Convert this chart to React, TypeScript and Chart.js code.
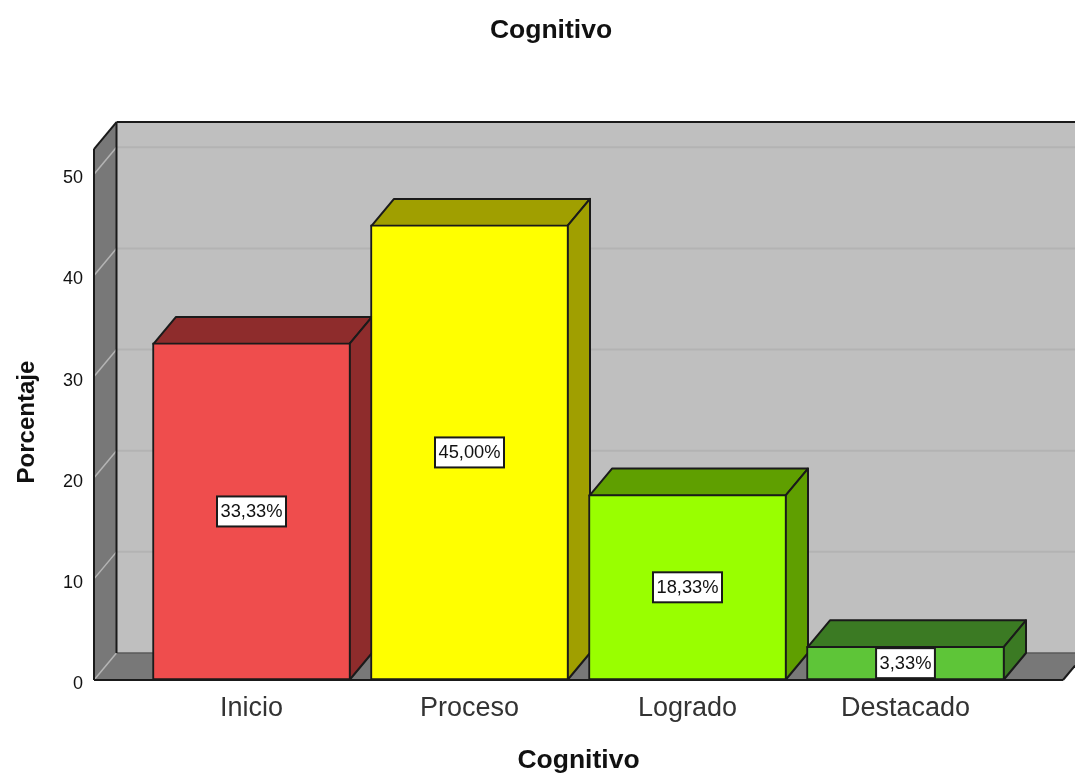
import React, { useEffect, useRef } from "react";
import { Chart, registerables } from "chart.js";

Chart.register(...registerables);

const categories = ["Inicio", "Proceso", "Logrado", "Destacado"];
const percentages = [33.33, 45.0, 18.33, 3.33];
const valueLabels = ["33,33%", "45,00%", "18,33%", "3,33%"];
const frontColors = ["#EF4D4D", "#FFFF00", "#99FF00", "#5EC538"];
const topColors = ["#8E2C2C", "#A09F00", "#5F9F00", "#3B7A23"];
const yTicks = [0, 10, 20, 30, 40, 50];

const FONT = "'Liberation Sans', Arial, sans-serif";
const INK = "#1a1a1a";
const DEPTH_X = 22.5;
const DEPTH_Y = -27;
const WALL_TOP_VALUE = 52.5;
const TITLE_CENTER = 551;

function poly(ctx: CanvasRenderingContext2D, pts: number[][], fill: string | null, stroke: string | null, lw = 2) {
  ctx.beginPath();
  pts.forEach(([x, y], i) => (i ? ctx.lineTo(x, y) : ctx.moveTo(x, y)));
  ctx.closePath();
  if (fill) {
    ctx.fillStyle = fill;
    ctx.fill();
  }
  if (stroke) {
    ctx.strokeStyle = stroke;
    ctx.lineWidth = lw;
    ctx.lineJoin = "round";
    ctx.stroke();
  }
}

function seg(ctx: CanvasRenderingContext2D, x1: number, y1: number, x2: number, y2: number, color: string, lw: number) {
  ctx.beginPath();
  ctx.moveTo(x1, y1);
  ctx.lineTo(x2, y2);
  ctx.strokeStyle = color;
  ctx.lineWidth = lw;
  ctx.stroke();
}

// Moves the title off the page centre, onto the centre of the 3D box.
const titleShift = {
  id: "titleShift",
  afterLayout(chart: any) {
    const t = chart.titleBlock;
    if (!t) return;
    const half = t.width / 2;
    t.left = TITLE_CENTER - half;
    t.right = TITLE_CENTER + half;
  },
};

// Back wall, side wall and floor of the box, plus the top and side faces of each bar.
const box3d = {
  id: "box3d",
  beforeDatasetsDraw(chart: any) {
    const { ctx, chartArea, scales } = chart;
    const y = scales.y;
    const l = chartArea.left;
    const r = chartArea.right;
    const b = y.getPixelForValue(0);
    const t = y.getPixelForValue(WALL_TOP_VALUE);
    ctx.save();

    poly(ctx, [[l + DEPTH_X, t + DEPTH_Y], [r + DEPTH_X, t + DEPTH_Y], [r + DEPTH_X, b + DEPTH_Y], [l + DEPTH_X, b + DEPTH_Y]], "#BFBFBF", null);
    poly(ctx, [[l, b], [l + DEPTH_X, b + DEPTH_Y], [r + DEPTH_X, b + DEPTH_Y], [r, b]], "#787878", null);
    poly(ctx, [[l, t], [l + DEPTH_X, t + DEPTH_Y], [l + DEPTH_X, b + DEPTH_Y], [l, b]], "#787878", null);

    yTicks.forEach((v) => {
      const py = y.getPixelForValue(v);
      seg(ctx, l, py, l + DEPTH_X, py + DEPTH_Y, "#B4B4B4", 1.5);
      if (v > 0) seg(ctx, l + DEPTH_X, py + DEPTH_Y, r + DEPTH_X, py + DEPTH_Y, "#B3B3B3", 2);
    });

    seg(ctx, l + DEPTH_X, b + DEPTH_Y, r + DEPTH_X, b + DEPTH_Y, "#5A5A5A", 1.5);
    seg(ctx, l, t, l, b, INK, 2);
    seg(ctx, l, t, l + DEPTH_X, t + DEPTH_Y, INK, 2);
    seg(ctx, l + DEPTH_X, t + DEPTH_Y, r + DEPTH_X, t + DEPTH_Y, INK, 2);
    seg(ctx, l + DEPTH_X, t + DEPTH_Y, l + DEPTH_X, b + DEPTH_Y, INK, 2);

    chart.getDatasetMeta(0).data.forEach((bar: any, i: number) => {
      const x0 = bar.x - bar.width / 2 + 1;
      const x1 = bar.x + bar.width / 2 - 1;
      const yt = bar.y + 1;
      const yb = bar.base;
      poly(ctx, [[x0, yt], [x0 + DEPTH_X, yt + DEPTH_Y], [x1 + DEPTH_X, yt + DEPTH_Y], [x1, yt]], topColors[i], INK);
      poly(ctx, [[x1, yt], [x1 + DEPTH_X, yt + DEPTH_Y], [x1 + DEPTH_X, yb + DEPTH_Y], [x1, yb]], topColors[i], INK);
    });
    ctx.restore();
  },
  afterDatasetsDraw(chart: any) {
    const { ctx, chartArea, scales } = chart;
    const b = scales.y.getPixelForValue(0);
    ctx.save();
    seg(ctx, chartArea.left, b, chartArea.right, b, INK, 2);
    seg(ctx, chartArea.right, b, chartArea.right + 12, b - 14.4, INK, 2);

    // White percentage boxes centred on each bar's front face.
    ctx.font = `18.3px ${FONT}`;
    ctx.textAlign = "center";
    ctx.textBaseline = "middle";
    chart.getDatasetMeta(0).data.forEach((bar: any, i: number) => {
      const cy = (bar.y + bar.base) / 2;
      const w = ctx.measureText(valueLabels[i]).width + 7;
      const h = 30;
      ctx.fillStyle = "#FFFFFF";
      ctx.fillRect(bar.x - w / 2, cy - h / 2, w, h);
      ctx.strokeStyle = INK;
      ctx.lineWidth = 2;
      ctx.strokeRect(bar.x - w / 2, cy - h / 2, w, h);
      ctx.fillStyle = "#111111";
      ctx.fillText(valueLabels[i], bar.x, cy + 1);
    });
    ctx.restore();
  },
};

export default function App() {
  const ref = useRef<HTMLCanvasElement>(null);

  useEffect(() => {
    const chart = new Chart(ref.current as HTMLCanvasElement, {
      type: "bar",
      data: {
        datasets: [
          {
            data: percentages.map((v, i) => ({ x: i, y: v })),
            backgroundColor: frontColors,
            borderColor: INK,
            borderWidth: 2,
            borderSkipped: false,
            barThickness: 198,
          },
        ],
      },
      options: {
        animation: false,
        responsive: false,
        layout: { padding: { left: 0, right: 12, top: 0, bottom: 0 } },
        plugins: {
          legend: { display: false },
          tooltip: { enabled: false },
          title: {
            display: true,
            text: "Cognitivo",
            color: "#111111",
            font: { family: FONT, size: 26.5, weight: "bold" },
            padding: { top: 15, bottom: 117.4 },
          },
        },
        scales: {
          x: {
            type: "linear",
            offset: false,
            min: -0.7225,
            max: 3.7225,
            afterFit(scale: any) {
              scale.height = 94;
            },
            afterBuildTicks(scale: any) {
              scale.ticks = categories.map((_, i) => ({ value: i }));
            },
            grid: { display: false, drawTicks: false, offset: false },
            border: { display: false },
            ticks: {
              autoSkip: false,
              maxRotation: 0,
              padding: 12,
              color: "#333333",
              font: { family: FONT, size: 27 },
              callback: (v: any) => categories[v as number],
            },
            title: {
              display: true,
              text: "Cognitivo",
              color: "#111111",
              font: { family: FONT, size: 26.5, weight: "bold" },
              padding: { top: 0, bottom: -3 },
            },
          },
          y: {
            min: 0,
            max: 51,
            afterFit(scale: any) {
              scale.width = 94;
            },
            afterBuildTicks(scale: any) {
              scale.ticks = yTicks.map((v) => ({ value: v }));
            },
            grid: { display: false, drawTicks: false },
            border: { display: false },
            ticks: {
              padding: 11,
              labelOffset: 4,
              color: "#111111",
              font: { family: FONT, size: 18 },
            },
            title: {
              display: true,
              text: "Porcentaje",
              color: "#111111",
              font: { family: FONT, size: 24, weight: "bold" },
              padding: { top: 13, bottom: 0 },
            },
          },
        },
      },
      plugins: [titleShift, box3d],
    } as any);
    return () => chart.destroy();
  }, []);

  return (
    <canvas
      ref={ref}
      width={1075}
      height={774}
      style={{ position: "fixed", left: 0, top: 0, display: "block" }}
    />
  );
}
